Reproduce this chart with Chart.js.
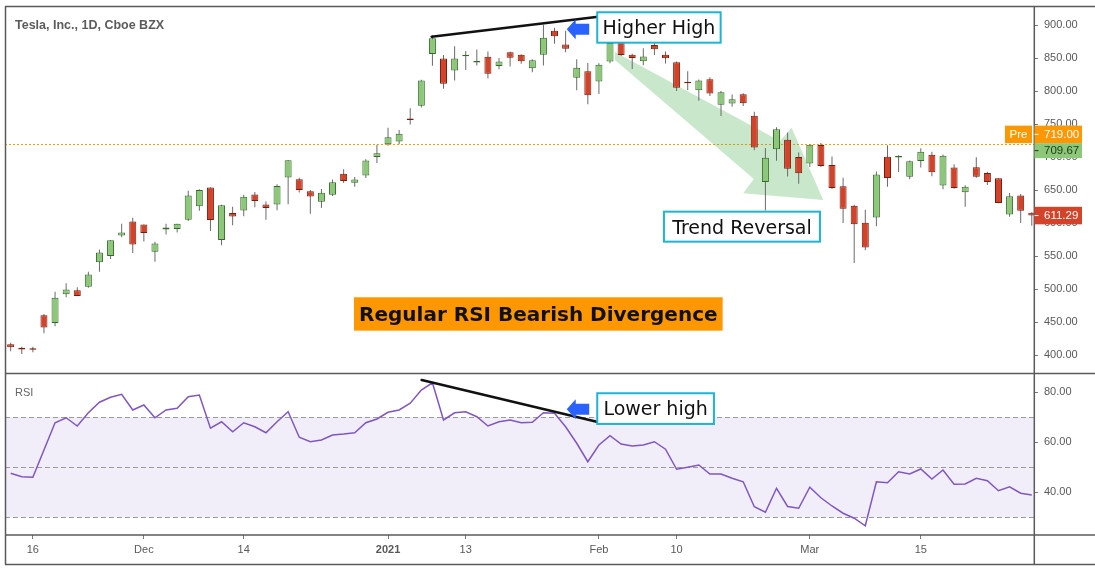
<!DOCTYPE html>
<html>
<head>
<meta charset="utf-8">
<script src="https://cdn.jsdelivr.net/npm/chart.js@4.4.1/dist/chart.umd.min.js"></script>
<style>
html,body{margin:0;padding:0;background:#fff;}
#wrap{position:relative;width:1095px;height:572px;overflow:hidden;}
</style>
</head>
<body>
<div id="wrap"><canvas id="c" width="1095" height="572"></canvas></div>
<script>
// ---------------- DATA ----------------
const dates = ['2020-11-12','2020-11-13','2020-11-16','2020-11-17','2020-11-18','2020-11-19','2020-11-20','2020-11-23','2020-11-24','2020-11-25','2020-11-27','2020-11-30',
'2020-12-01','2020-12-02','2020-12-03','2020-12-04','2020-12-07','2020-12-08','2020-12-09','2020-12-10','2020-12-11','2020-12-14','2020-12-15','2020-12-16','2020-12-17','2020-12-18','2020-12-21','2020-12-22','2020-12-23','2020-12-24','2020-12-28','2020-12-29','2020-12-30','2020-12-31',
'2021-01-04','2021-01-05','2021-01-06','2021-01-07','2021-01-08','2021-01-11','2021-01-12','2021-01-13','2021-01-14','2021-01-15','2021-01-19','2021-01-20','2021-01-21','2021-01-22','2021-01-25','2021-01-26','2021-01-27','2021-01-28','2021-01-29',
'2021-02-01','2021-02-02','2021-02-03','2021-02-04','2021-02-05','2021-02-08','2021-02-09','2021-02-10','2021-02-11','2021-02-12','2021-02-16','2021-02-17','2021-02-18','2021-02-19','2021-02-22','2021-02-23','2021-02-24','2021-02-25','2021-02-26',
'2021-03-01','2021-03-02','2021-03-03','2021-03-04','2021-03-05','2021-03-08','2021-03-09','2021-03-10','2021-03-11','2021-03-12','2021-03-15','2021-03-16','2021-03-17','2021-03-18','2021-03-19','2021-03-22','2021-03-23','2021-03-24','2021-03-25','2021-03-26','2021-03-29'];

const openP  = [416.45,410.85,408.93,460.17,448.35,492.00,497.99,503.50,540.40,550.06,581.16,602.21,
597.59,556.44,590.02,591.01,604.92,625.51,653.69,574.37,615.01,619.00,643.28,628.23,628.19,668.90,666.24,648.00,632.20,642.99,674.51,661.00,672.00,699.99,
719.46,723.66,758.49,777.63,856.00,849.40,831.00,852.76,843.39,852.00,837.80,858.74,855.00,834.31,855.00,891.38,870.35,820.00,830.00,
814.29,844.68,877.02,855.00,845.00,869.67,855.12,843.64,812.44,801.26,818.00,779.09,780.90,795.00,762.64,662.13,711.85,726.15,700.00,
690.11,718.28,687.99,655.80,626.06,600.55,608.18,700.30,699.40,670.00,694.09,703.35,656.87,684.29,646.60,684.59,675.77,667.91,613.00,641.87,615.64];

const highP  = [418.70,412.53,412.45,462.00,496.00,508.61,502.50,526.00,559.99,574.00,598.78,607.80,
597.85,571.54,598.97,599.04,648.79,651.28,654.32,627.75,624.80,642.75,646.90,632.50,658.82,695.00,668.50,649.88,651.50,666.09,681.40,669.90,696.60,718.72,
744.49,740.84,774.00,816.99,884.49,854.43,868.00,860.47,863.00,859.90,850.00,859.50,855.72,848.00,900.40,895.90,891.50,848.00,842.41,
842.00,880.50,878.08,856.50,864.77,877.77,859.80,844.82,829.88,817.33,821.00,799.84,794.69,796.79,768.50,713.61,745.00,737.21,706.70,
719.00,721.11,700.70,668.45,627.84,620.13,678.09,717.85,702.50,694.88,713.18,707.92,703.73,689.23,657.23,699.62,677.80,668.02,645.50,643.82,616.48];

const lowP   = [405.73,401.66,404.09,433.01,443.50,487.57,489.06,501.79,526.20,545.37,578.45,554.51,
572.05,541.21,582.59,585.50,603.05,618.50,588.00,566.34,596.80,610.20,623.80,605.00,619.50,628.54,646.07,614.23,622.57,641.00,660.80,655.00,668.36,691.12,
717.19,719.20,749.10,775.20,838.39,803.62,816.02,832.00,838.75,819.10,833.00,837.28,841.42,828.62,838.82,871.60,858.66,801.00,780.10,
795.56,842.20,853.06,833.42,838.97,854.75,841.75,800.02,801.73,785.33,792.44,762.01,776.27,777.37,710.20,619.00,694.17,670.58,659.51,
685.05,685.00,651.71,600.00,539.49,558.79,595.21,655.06,677.18,666.14,684.04,671.00,651.01,652.00,624.62,668.75,657.51,630.11,609.50,599.89,596.02];

const closeP = [411.76,408.50,408.09,441.61,486.64,499.27,489.61,521.85,555.38,574.00,585.76,567.60,
584.76,568.82,593.38,599.04,641.76,649.88,604.48,627.07,609.99,639.83,633.25,622.77,655.90,695.00,649.86,640.34,645.98,661.77,663.69,665.99,694.78,705.67,
729.77,735.11,755.98,816.04,880.02,811.19,849.44,854.41,845.00,826.16,844.55,850.45,844.99,846.64,880.80,883.09,864.16,835.43,793.53,
839.81,872.79,854.69,849.99,852.23,863.42,849.46,804.82,811.66,816.12,796.22,798.15,787.38,781.30,714.50,698.84,742.02,682.22,675.50,
718.43,686.44,653.20,621.44,597.95,563.00,673.58,668.06,699.60,693.73,707.94,676.88,701.81,653.16,654.87,670.00,662.16,630.27,640.39,618.71,611.29];

const rsi = [47.5,46.1,45.9,56.8,67.7,69.7,66.4,71.7,75.9,77.9,79.1,72.8,
74.8,69.7,72.8,73.5,78.1,78.8,65.5,68.1,64.1,67.7,66.1,63.7,68.1,72.1,61.9,60.1,60.8,62.8,63.2,63.7,67.7,69.2,
71.9,72.8,75.5,80.8,83.7,68.8,71.7,72.1,70.1,66.4,68.1,68.8,67.7,67.9,71.7,71.5,66.1,59.5,52.1,
58.8,62.5,59.2,58.4,58.8,60.1,57.1,49.1,49.9,50.8,47.2,47.2,45.5,44.1,34.1,31.9,41.5,34.2,33.5,
41.9,37.7,34.4,31.5,29.5,26.5,44.1,43.7,48.1,47.2,49.2,45.2,48.8,43.1,43.2,45.5,44.5,40.5,42.1,39.5,38.8];

const priceTicks = [400,450,500,550,600,650,700,750,800,850,900];
const rsiTicks = [40,60,80];
const rsiLevels = [70,50,30];
const rsiBand = [30,70];
const xTickIndex = [2,12,21,34,41,53,60,72,82];
const xTickText = ['16','Dec','14','2021','13','Feb','10','Mar','15'];
const preValue = 719.00;
const midValue = 709.67;
const lastValue = 611.29;
const titleText = 'Tesla, Inc., 1D, Cboe BZX';

// ---------------- ANNOTATIONS (anchored in data units) ----------------
const trendArrow = [[54.44,859.1],[69.31,724.2],[70.36,744.4],[73.21,634.8],[66.0,645.0],[66.96,666.7],[54.44,847.0]];
const priceTrendLine = {from:[37.93,882.3], to:[52.94,912.6]};
const rsiTrendLine = {from:[37.03,84.8], to:[52.8,68.1]};
const priceArrowTip = [50.1,893.5];
const rsiArrowTip = [50.1,73.1];
const boxes = [
  {pane:'price', at:[52.85,919.3], w:123.4, h:30.4, text:'Higher High', fill:'#ffffff', stroke:'#1eb4d2', font:'19px "DejaVu Sans"'},
  {pane:'price', at:[58.86,617.2], w:156, h:30, text:'Trend Reversal', fill:'#ffffff', stroke:'#1eb4d2', font:'19px "DejaVu Sans"'},
  {pane:'price', at:[30.93,487.5], w:368.7, h:33.4, text:'Regular RSI Bearish Divergence', fill:'#ff9800', stroke:null, font:'bold 20px "DejaVu Sans"'},
  {pane:'rsi', at:[52.85,79.5], w:116.7, h:30.7, text:'Lower high', fill:'#ffffff', stroke:'#1eb4d2', font:'19px "DejaVu Sans"'}
];

const GREEN = '#8cc77a', GREEN_B = '#356b28', RED = '#d2432a', RED_B = '#7a1c0c', WICK = '#6a6a6a';
const AXIS_TXT = '#595959', FRAME = '#5a5a5a';

const idx = dates.map((d,i)=>i);
const isUp = idx.map(i => closeP[i] >= openP[i]);

Chart.defaults.font.family = '"Liberation Sans", Arial, sans-serif';

const overlay = {
  id:'overlay',
  beforeDatasetsDraw(chart){
    const {ctx, chartArea:ca} = chart;
    const X = chart.scales.x, P = chart.scales.y, R = chart.scales.y2;
    ctx.save();
    // RSI band
    const yT = R.getPixelForValue(rsiBand[1]), yB = R.getPixelForValue(rsiBand[0]);
    ctx.fillStyle = 'rgba(126,87,194,0.10)';
    ctx.fillRect(ca.left, yT, ca.right-ca.left, yB-yT);
    ctx.strokeStyle = '#9a9a9a'; ctx.lineWidth = 1; ctx.setLineDash([5,3]);
    rsiLevels.forEach(v => {
      const y = Math.round(R.getPixelForValue(v)) + 0.5;
      ctx.beginPath(); ctx.moveTo(ca.left, y); ctx.lineTo(ca.right, y); ctx.stroke();
    });
    // dotted pre-market line
    ctx.strokeStyle = '#ff9800'; ctx.setLineDash([2,2]);
    const yo = Math.round(P.getPixelForValue(preValue)) + 0.5;
    ctx.beginPath(); ctx.moveTo(ca.left, yo); ctx.lineTo(ca.right, yo); ctx.stroke();
    ctx.setLineDash([]);
    // green trend arrow
    ctx.fillStyle = 'rgba(76,175,80,0.30)';
    ctx.beginPath();
    trendArrow.forEach(([i,p],k) => {
      const x = X.getPixelForValue(i), y = P.getPixelForValue(p);
      if (k) ctx.lineTo(x,y); else ctx.moveTo(x,y);
    });
    ctx.closePath(); ctx.fill();
    ctx.restore();
  },
  afterDraw(chart){
    const {ctx, chartArea:ca, width:W} = chart;
    const X = chart.scales.x, P = chart.scales.y, R = chart.scales.y2;
    const yOf = (pane, v) => pane === 'rsi' ? R.getPixelForValue(v) : P.getPixelForValue(v);
    ctx.save();
    // frame
    ctx.strokeStyle = FRAME; ctx.lineWidth = 1.5;
    const sep = P.bottom;
    const lines = [
      [ca.left, 6.5, W, 6.5],
      [ca.left+0.5, 6.5, ca.left+0.5, 564.5],
      [ca.left, sep, W, sep],
      [ca.left, ca.bottom, W, ca.bottom],
      [ca.left, 564.5, W, 564.5],
      [ca.right+0.3, 6.5, ca.right+0.3, 564.5]
    ];
    lines.forEach(([a,b,c,d]) => { ctx.beginPath(); ctx.moveTo(a,b); ctx.lineTo(c,d); ctx.stroke(); });

    // trend lines
    ctx.strokeStyle = '#111'; ctx.lineWidth = 2.6; ctx.lineCap = 'round';
    [[priceTrendLine,'price'],[rsiTrendLine,'rsi']].forEach(([l,pane]) => {
      ctx.beginPath();
      ctx.moveTo(X.getPixelForValue(l.from[0]), yOf(pane,l.from[1]));
      ctx.lineTo(X.getPixelForValue(l.to[0]), yOf(pane,l.to[1]));
      ctx.stroke();
    });
    ctx.lineCap = 'butt';

    // blue arrows
    ctx.fillStyle = '#2962ff';
    [[priceArrowTip,'price'],[rsiArrowTip,'rsi']].forEach(([t,pane]) => {
      const tx = X.getPixelForValue(t[0]), ty = yOf(pane,t[1]);
      ctx.beginPath();
      ctx.moveTo(tx, ty);
      ctx.lineTo(tx+9, ty-10);
      ctx.lineTo(tx+9, ty-5.5);
      ctx.lineTo(tx+22.5, ty-5.5);
      ctx.lineTo(tx+22.5, ty+5.5);
      ctx.lineTo(tx+9, ty+5.5);
      ctx.lineTo(tx+9, ty+10);
      ctx.closePath(); ctx.fill();
    });

    // boxes
    boxes.forEach(b => {
      const x = X.getPixelForValue(b.at[0]), y = yOf(b.pane, b.at[1]);
      ctx.fillStyle = b.fill; ctx.fillRect(x, y, b.w, b.h);
      if (b.stroke) { ctx.strokeStyle = b.stroke; ctx.lineWidth = 2; ctx.strokeRect(x, y, b.w, b.h); }
      ctx.fillStyle = '#111'; ctx.font = b.font; ctx.textAlign = 'center'; ctx.textBaseline = 'alphabetic';
      const size = parseFloat(b.font.match(/(\d+(\.\d+)?)px/)[1]);
      ctx.fillText(b.text, x + b.w/2, y + b.h/2 + size*0.36);
    });

    // title & RSI label
    ctx.textAlign = 'left'; ctx.textBaseline = 'alphabetic';
    ctx.fillStyle = '#5c5c5c'; ctx.font = 'bold 12.5px "Liberation Sans", Arial';
    ctx.fillText(titleText, 15, 29.3);
    ctx.fillStyle = '#666'; ctx.font = '11px "Liberation Sans", Arial';
    ctx.fillText('RSI', 15, 395.5);

    // price labels on the right axis
    const lx = ca.right + 0.5, lw = 47.5;
    const drawLbl = (top, h, bg, fg, txt) => {
      ctx.fillStyle = bg; ctx.fillRect(lx, top, lw, h);
      ctx.strokeStyle = fg; ctx.lineWidth = 1;
      ctx.beginPath(); ctx.moveTo(lx, top+h/2); ctx.lineTo(lx+4, top+h/2); ctx.stroke();
      ctx.fillStyle = fg; ctx.font = '11.5px "Liberation Sans", Arial'; ctx.textAlign = 'left'; ctx.textBaseline = 'middle';
      ctx.fillText(txt, lx + 9.5, top + h/2 + 0.5);
    };
    const yMid = P.getPixelForValue(midValue);
    const midTop = yMid - 7.5;
    drawLbl(midTop, 15, GREEN, '#1d3a12', midValue.toFixed(2));
    const preTop = midTop - 17.5;
    drawLbl(preTop, 17.5, '#ff9800', '#ffffff', preValue.toFixed(2));
    // "Pre" tag
    ctx.fillStyle = '#ff9800'; ctx.fillRect(ca.right - 29, preTop, 27, 17.5);
    ctx.fillStyle = '#fff'; ctx.textAlign = 'center'; ctx.font = '11.5px "Liberation Sans", Arial';
    ctx.fillText('Pre', ca.right - 15.5, preTop + 9.25);
    const yLast = P.getPixelForValue(lastValue);
    drawLbl(yLast - 8.75, 17.5, RED, '#ffffff', lastValue.toFixed(2));
    ctx.restore();
  }
};

const yFit = s => { s.width = 61; s.paddingTop = 0; s.paddingBottom = 0; };

const ctx = document.getElementById('c').getContext('2d');
new Chart(ctx, {
  type:'bar',
  data:{
    datasets:[
      {
        type:'line', label:'RSI', data: idx.map(i => ({x:i, y:rsi[i]})), yAxisID:'y2',
        borderColor:'#7e57c2', borderWidth:1.5, pointRadius:0, tension:0, order:0
      },
      {
        type:'bar', label:'body', data: idx.map(i => ({x:i, y:[openP[i], closeP[i]]})), yAxisID:'y',
        backgroundColor: isUp.map(u => u ? GREEN : RED), borderColor: isUp.map(u => u ? GREEN_B : RED_B),
        borderWidth:1, borderSkipped:false, grouped:false, barThickness:7, maxBarThickness:7,
        minBarLength:1.5, inflateAmount:0, order:1
      },
      {
        type:'bar', label:'wick', data: idx.map(i => ({x:i, y:[lowP[i], highP[i]]})), yAxisID:'y',
        backgroundColor: WICK, borderWidth:0, grouped:false, barThickness:1, maxBarThickness:1,
        inflateAmount:0, order:2
      }
    ]
  },
  options:{
    responsive:false, animation:false, devicePixelRatio:1,
    layout:{padding:{left:5, top:7, right:0, bottom:7}},
    plugins:{legend:{display:false}, tooltip:{enabled:false}},
    scales:{
      x:{
        type:'linear', position:'bottom', min:-0.51, max:92.2, offset:false,
        afterBuildTicks: s => { s.ticks = xTickIndex.map(v => ({value:v})); },
        afterFit: s => { s.height = 30; s.paddingLeft = 0; s.paddingRight = 0; },
        ticks:{
          autoSkip:false, maxRotation:0, padding:4, color:AXIS_TXT,
          font: c => ({family:'"Liberation Sans", Arial', size:11, weight: (c.tick && xTickText[xTickIndex.indexOf(c.tick.value)] === '2021') ? 'bold' : 'normal'}),
          callback: v => { const k = xTickIndex.indexOf(v); return k >= 0 ? xTickText[k] : ''; }
        },
        grid:{display:true, drawOnChartArea:false, drawTicks:true, tickLength:4, color:'#777', offset:false},
        border:{display:false}
      },
      y:{
        type:'linear', position:'right', stack:'panes', stackWeight:366.5, weight:0,
        min:372, max:927.3,
        afterBuildTicks: s => { s.ticks = priceTicks.map(v => ({value:v})); },
        afterFit: yFit,
        ticks:{color:AXIS_TXT, padding:6, font:{size:11}, callback: v => Number(v).toFixed(2)},
        grid:{display:true, drawOnChartArea:false, drawTicks:true, tickLength:4, color:'#777'},
        border:{display:false}
      },
      y2:{
        type:'linear', position:'right', stack:'panes', stackWeight:161.5, weight:1,
        min:22.8, max:87.4,
        afterBuildTicks: s => { s.ticks = rsiTicks.map(v => ({value:v})); },
        afterFit: yFit,
        ticks:{color:AXIS_TXT, padding:6, font:{size:11}, callback: v => Number(v).toFixed(2)},
        grid:{display:true, drawOnChartArea:false, drawTicks:true, tickLength:4, color:'#777'},
        border:{display:false}
      }
    }
  },
  plugins:[overlay]
});
</script>
</body>
</html>
